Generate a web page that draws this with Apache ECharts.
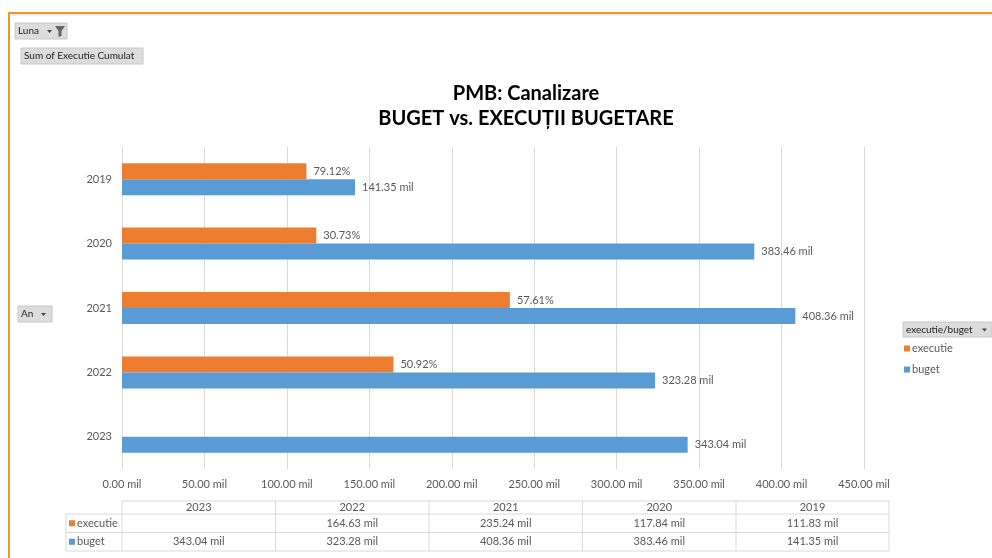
<!DOCTYPE html>
<html lang="ro">
<head>
    <meta charset="UTF-8">
    <script src="https://cdn.jsdelivr.net/npm/echarts@6/dist/echarts.min.js"></script>
    <title>PMB: Canalizare</title>
    <style>
        html, body { margin: 0; padding: 0; background: #fff; }
        #main { width: 992px; height: 558px; }
    </style>
</head>
<body>
    <div id="main"></div>
    <script>
        // date din grafic (Excel: prima categorie jos)
        var ani = ['2023', '2022', '2021', '2020', '2019'];
        var executie = [null, 164.63, 235.24, 117.84, 111.83];
        var buget = [343.04, 323.28, 408.36, 383.46, 141.35];
        var seriiNume = ['executie', 'buget'];
        var culori = ['#ED7D31', '#5B9BD5'];

        var FONT = 'Lato, "Liberation Sans", sans-serif';
        var GRI = '#595959';

        function mil(v) {
            return v.toFixed(2) + ' mil';
        }

        // buton de pivot (gri)
        function buton(x, y, w, h, text, sageata) {
            var el = [{
                type: 'rect',
                shape: { x: x, y: y, width: w, height: h },
                style: { fill: '#dcdcdc', stroke: '#c8c8c8', lineWidth: 1 }
            }, {
                type: 'text',
                x: x + 3, y: y + h / 2,
                style: { text: text, fontSize: 10, fontFamily: FONT, fill: '#222', verticalAlign: 'middle' }
            }];
            if (sageata) {
                el.push({
                    type: 'polygon',
                    shape: { points: [[sageata, y + h / 2 - 1], [sageata + 5, y + h / 2 - 1], [sageata + 2.5, y + h / 2 + 2]] },
                    style: { fill: '#444' }
                });
            }
            return el;
        }

        // tabelul de date de sub grafic
        var colX = [122, 275.5, 429, 582.5, 736, 889];
        var rowY = [501, 514, 532.5, 551];
        var tabel = [];
        var linie = { stroke: '#d9d9d9', lineWidth: 1 };
        tabel.push({ type: 'line', shape: { x1: colX[0], y1: rowY[0], x2: colX[5], y2: rowY[0] }, style: linie });
        tabel.push({ type: 'line', shape: { x1: 66, y1: rowY[1], x2: colX[5], y2: rowY[1] }, style: linie });
        tabel.push({ type: 'line', shape: { x1: 66, y1: rowY[2], x2: colX[5], y2: rowY[2] }, style: linie });
        tabel.push({ type: 'line', shape: { x1: 66, y1: rowY[3], x2: colX[5], y2: rowY[3] }, style: linie });
        tabel.push({ type: 'line', shape: { x1: 66, y1: rowY[1], x2: 66, y2: rowY[3] }, style: linie });
        colX.forEach(function (x) {
            tabel.push({ type: 'line', shape: { x1: x, y1: rowY[0], x2: x, y2: rowY[3] }, style: linie });
        });
        var valori = [executie, buget];
        ani.forEach(function (an, i) {
            var cx = (colX[i] + colX[i + 1]) / 2;
            tabel.push({
                type: 'text', x: cx, y: (rowY[0] + rowY[1]) / 2,
                style: { text: an, fontSize: 11, fontFamily: FONT, fill: GRI, align: 'center', verticalAlign: 'middle' }
            });
            valori.forEach(function (serie, s) {
                if (serie[i] == null) return;
                tabel.push({
                    type: 'text', x: cx, y: (rowY[s + 1] + rowY[s + 2]) / 2,
                    style: { text: mil(serie[i]), fontSize: 11, fontFamily: FONT, fill: GRI, align: 'center', verticalAlign: 'middle' }
                });
            });
        });
        seriiNume.forEach(function (nume, s) {
            var yc = (rowY[s + 1] + rowY[s + 2]) / 2;
            tabel.push({ type: 'rect', shape: { x: 69, y: yc - 3, width: 6, height: 6 }, style: { fill: culori[s] } });
            tabel.push({
                type: 'text', x: 77, y: yc,
                style: { text: nume, fontSize: 11, fontFamily: FONT, fill: GRI, verticalAlign: 'middle' }
            });
        });

        var grafic = [
            // chenarul portocaliu
            { type: 'line', shape: { x1: 9, y1: 13, x2: 992, y2: 13 }, style: { stroke: '#f7941d', lineWidth: 2 } },
            { type: 'line', shape: { x1: 9, y1: 12, x2: 9, y2: 558 }, style: { stroke: '#f7941d', lineWidth: 2 } },
            { type: 'line', shape: { x1: 10, y1: 15, x2: 992, y2: 15 }, style: { stroke: '#e6e6e6', lineWidth: 1 } }
        ];
        grafic = grafic
            .concat(buton(15, 23, 52, 16, 'Luna', 47))
            .concat([{
                type: 'polygon',
                shape: { points: [[55, 26], [65, 26], [61.5, 31], [61.5, 36], [58.5, 37], [58.5, 31]] },
                style: { fill: '#666' }
            }])
            .concat(buton(21, 48, 122, 16, 'Sum of Executie Cumulat'))
            .concat(buton(18, 306, 34, 16, 'An', 41))
            .concat(buton(903, 322, 89, 15, 'executie/buget', 982))
            .concat(tabel);

        var chart = echarts.init(document.getElementById('main'));
        var option = {
            animation: false,
            textStyle: { fontFamily: FONT },
            title: {
                text: 'PMB: Canalizare\nBUGET vs. EXECUȚII BUGETARE',
                left: 521,
                top: 76,
                textAlign: 'center',
                textStyle: { fontSize: 20, fontWeight: 'bold', color: '#000', lineHeight: 25, fontFamily: FONT }
            },
            legend: {
                orient: 'vertical',
                left: 904,
                top: 343,
                padding: 0,
                itemGap: 10,
                itemWidth: 6,
                itemHeight: 6,
                icon: 'rect',
                selectedMode: false,
                data: seriiNume,
                textStyle: { color: GRI, fontSize: 11, padding: [0, 0, 0, -3] }
            },
            grid: { left: 122, right: 128, top: 147, bottom: 89, containLabel: false },
            xAxis: {
                type: 'value',
                min: 0,
                max: 450,
                interval: 50,
                axisLine: { show: false },
                axisTick: { show: false },
                axisLabel: { color: GRI, fontSize: 11, margin: 10, formatter: mil },
                splitLine: { lineStyle: { color: '#d9d9d9', width: 1 } }
            },
            yAxis: {
                type: 'category',
                data: ani,
                axisLine: { show: false },
                axisTick: { show: false },
                axisLabel: { color: GRI, fontSize: 11, margin: 10 }
            },
            series: [{
                name: seriiNume[0],
                type: 'bar',
                data: executie,
                barWidth: 16,
                barGap: '0%',
                itemStyle: { color: culori[0] },
                label: {
                    show: true,
                    position: 'right',
                    distance: 7,
                    color: GRI,
                    fontSize: 11,
                    formatter: function (p) {
                        return (p.value / buget[p.dataIndex] * 100).toFixed(2) + '%';
                    }
                }
            }, {
                name: seriiNume[1],
                type: 'bar',
                data: buget,
                barWidth: 16,
                barGap: '0%',
                itemStyle: { color: culori[1] },
                label: {
                    show: true,
                    position: 'right',
                    distance: 7,
                    color: GRI,
                    fontSize: 11,
                    formatter: function (p) { return mil(p.value); }
                }
            }],
            graphic: grafic
        };
        chart.setOption(option);
    </script>
</body>
</html>
